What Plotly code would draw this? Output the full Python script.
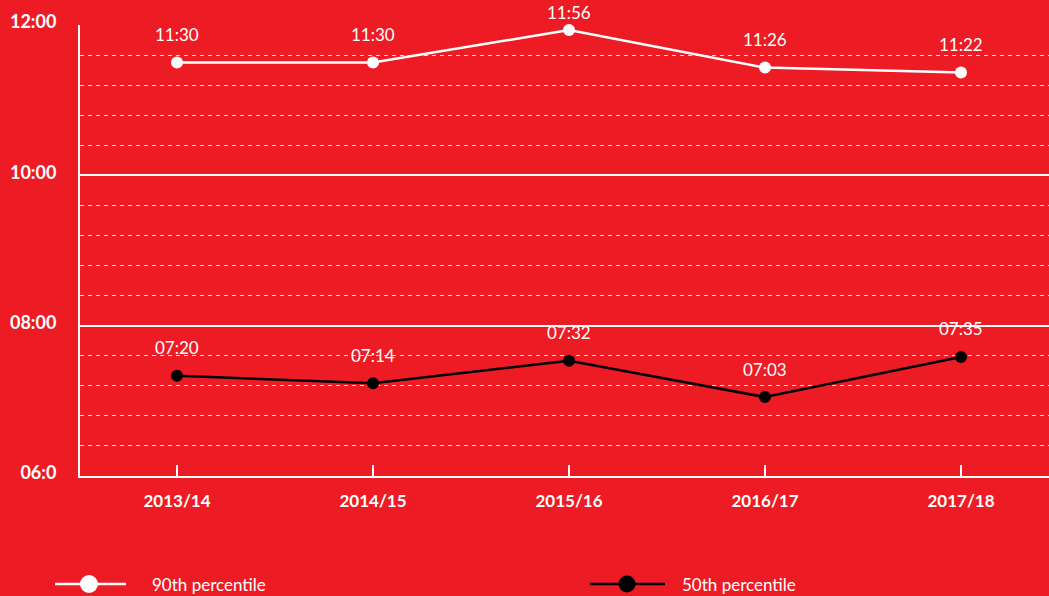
import plotly.graph_objects as go

# Academic years on the x axis
years = ["2013/14", "2014/15", "2015/16", "2016/17", "2017/18"]

# Times of day (HH:MM) for each percentile
p90_times = ["11:30", "11:30", "11:56", "11:26", "11:22"]
p50_times = ["07:20", "07:14", "07:32", "07:03", "07:35"]

# Y axis ticks (hours) and their labels
y_tick_vals = [6, 8, 10, 12]
y_tick_text = ["06:0", "08:00", "10:00", "12:00"]


def to_hours(t):
    h, m = t.split(":")
    return int(h) + int(m) / 60


p90 = [to_hours(t) for t in p90_times]
p50 = [to_hours(t) for t in p50_times]

RED = "#ED1C24"
WHITE = "#FFFFFF"
BLACK = "#000000"
FONT = "Lato"

W, H = 1049, 596
M_L, M_R, M_T, M_B = 80, 0, 25, 120
Y_MIN, Y_MAX = 6, 12
plot_h = H - M_T - M_B

fig = go.Figure()

fig.add_trace(go.Scatter(
    x=years, y=p90, mode="lines+markers", name="90th percentile",
    line=dict(color=WHITE, width=2.5),
    marker=dict(color=WHITE, size=12),
    showlegend=False, cliponaxis=False,
))
fig.add_trace(go.Scatter(
    x=years, y=p50, mode="lines+markers", name="50th percentile",
    line=dict(color=BLACK, width=2.5),
    marker=dict(color=BLACK, size=12),
    showlegend=False, cliponaxis=False,
))

# Value labels above each point
annotations = []
for series_vals, series_text in ((p90, p90_times), (p50, p50_times)):
    for yr, v, txt in zip(years, series_vals, series_text):
        px_from_top = M_T + (Y_MAX - v) / (Y_MAX - Y_MIN) * plot_h
        shift = min(28, px_from_top - 13)
        annotations.append(dict(
            x=yr, y=v, xref="x", yref="y", text=txt, showarrow=False,
            yshift=shift, font=dict(family=FONT, size=17, color=WHITE),
        ))

# Hand-drawn legend below the plot
def px_x(p):
    return (p - M_L) / (W - M_L - M_R)


def px_y(p):
    return (H - M_B - p) / plot_h


leg_y = px_y(584)
shapes = []
legend_items = [
    (55, 126, 89, WHITE, 18, "90th percentile", 150),
    (590, 665, 627, BLACK, 17, "50th percentile", 680),
]
for x0, x1, cx, col, dia, label, tx in legend_items:
    shapes.append(dict(type="line", xref="paper", yref="paper",
                       x0=px_x(x0), x1=px_x(x1), y0=leg_y, y1=leg_y,
                       line=dict(color=col, width=2.5)))
    shapes.append(dict(type="circle", xref="paper", yref="paper",
                       xsizemode="pixel", ysizemode="pixel",
                       xanchor=px_x(cx), yanchor=leg_y,
                       x0=-dia / 2, x1=dia / 2, y0=-dia / 2, y1=dia / 2,
                       fillcolor=col, line=dict(color=col, width=0)))
    annotations.append(dict(x=px_x(tx), y=leg_y, xref="paper", yref="paper",
                            text=label, showarrow=False, xanchor="left",
                            yanchor="middle",
                            font=dict(family=FONT, size=17, color=WHITE)))

fig.update_layout(
    width=W, height=H,
    margin=dict(l=M_L, r=M_R, t=M_T, b=M_B),
    paper_bgcolor=RED, plot_bgcolor=RED,
    showlegend=False,
    annotations=annotations,
    shapes=shapes,
    font=dict(family=FONT, color=WHITE),
)

fig.update_xaxes(
    type="category", range=[-0.495, 4.449],
    showgrid=False, zeroline=False,
    showline=True, linecolor=WHITE, linewidth=2,
    ticks="inside", ticklen=11, tickwidth=1.5, tickcolor=WHITE,
    ticklabelstandoff=9,
    tickfont=dict(family=FONT, size=17, color=WHITE, weight="bold"),
)

fig.update_yaxes(
    range=[Y_MIN, Y_MAX],
    tickvals=y_tick_vals, ticktext=y_tick_text,
    showgrid=True, gridcolor=WHITE, gridwidth=1.5,
    zeroline=False,
    showline=True, linecolor=WHITE, linewidth=2,
    ticks="", ticklabelstandoff=18, ticklabelshift=-3,
    tickfont=dict(family=FONT, size=18, color=WHITE, weight="bold"),
    minor=dict(tick0=6, dtick=0.4, showgrid=True, gridcolor="rgba(255,255,255,0.85)",
               gridwidth=1, griddash="4px,4px"),
)

fig.write_html("out.html")
